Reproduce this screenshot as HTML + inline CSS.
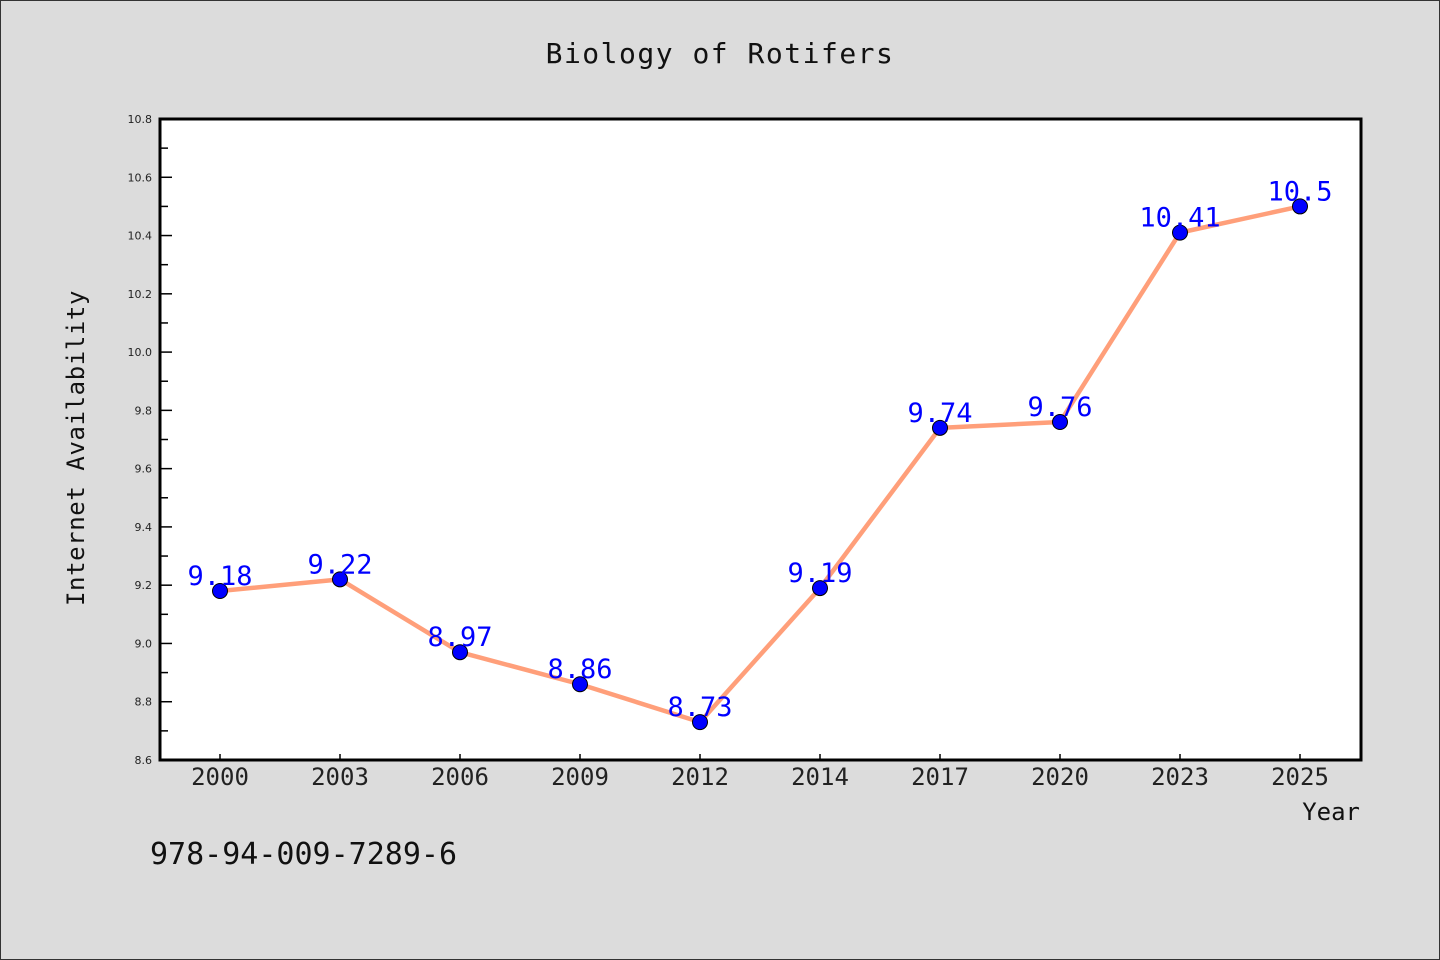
<!DOCTYPE html>
<html><head><meta charset="utf-8"><style>
body{margin:0;background:#dcdcdc;}
svg{display:block;font-family:"WenQuanYi Zen Hei Mono","WenQuanYi Zen Hei","DejaVu Sans Mono",monospace;}
.tk{font-family:"DejaVu Sans","Liberation Sans",sans-serif;}
</style></head><body>
<svg id="chart" width="1440" height="960">
<rect x="0.5" y="0.5" width="1439" height="959" fill="#dcdcdc" stroke="#333"/>
<text x="720" y="63" text-anchor="middle" font-size="28" fill="#111" letter-spacing="1.5">Biology of Rotifers</text>
<rect x="160" y="119" width="1201" height="641" fill="#fff"/>
<g id="axes"></g>
<g id="marks"></g>
<rect x="160" y="119" width="1201" height="641" fill="none" stroke="#000" stroke-width="3"/>
<text x="84" y="448" transform="rotate(-90 84 448)" text-anchor="middle" font-size="24" fill="#111" letter-spacing="0.6">Internet Availability</text>
<text x="1360" y="820" text-anchor="end" font-size="24" fill="#111">Year</text>
<text x="150" y="864" font-size="30" fill="#111">978-94-009-7289-6</text>
</svg>
<script>
const categories=["2000","2003","2006","2009","2012","2014","2017","2020","2023","2025"];
const values=[9.18,9.22,8.97,8.86,8.73,9.19,9.74,9.76,10.41,10.5];
const valueLabels=["9.18","9.22","8.97","8.86","8.73","9.19","9.74","9.76","10.41","10.5"];
const yTicks=[8.6,8.8,9.0,9.2,9.4,9.6,9.8,10.0,10.2,10.4,10.6,10.8];
const yMin=8.6,yMax=10.8;
const NS="http://www.w3.org/2000/svg";
const L=160,R=1361,T=119,B=760;
function x(i){return 220+i*120;}
function y(v){return B-(v-yMin)/(yMax-yMin)*(B-T);}
function mk(tag,attrs,parent,txt){const e=document.createElementNS(NS,tag);for(const k in attrs)e.setAttribute(k,attrs[k]);if(txt!==undefined)e.textContent=txt;parent.appendChild(e);return e;}
const axes=document.getElementById('axes'),marks=document.getElementById('marks');
yTicks.forEach((t,i)=>{
  const yy=y(t);
  const tk=mk('line',{x1:L,x2:L+12,y1:yy,y2:yy,stroke:'#000','stroke-width':1.5},axes);
  
  
  const lb=mk('text',{x:152,y:yy+4,'text-anchor':'end','font-size':11,fill:'#222','class':'tk'},axes,t.toFixed(1));
  
  
  if(i<yTicks.length-1){
    const ym=y(t+0.1);
    const mt=mk('line',{x1:L,x2:L+8,y1:ym,y2:ym,stroke:'#000','stroke-width':1.5},axes);
    
    
  }
});
categories.forEach((c,i)=>{
  const tk=mk('line',{x1:x(i),x2:x(i),y1:B,y2:B-6,stroke:'#000','stroke-width':1.5},axes);
  
  
  const lb=mk('text',{x:x(i),y:785,'text-anchor':'middle','font-size':24,fill:'#222'},axes,c);
  
  
});
const pl=mk('polyline',{points:values.map((v,i)=>x(i)+','+y(v)).join(' '),fill:'none',stroke:'#ff9f7a','stroke-width':4.5,'stroke-linejoin':'round'},marks);


values.forEach((v,i)=>{
  const p=mk('circle',{cx:x(i),cy:y(v),r:7.5,fill:'#0000ff',stroke:'#000','stroke-width':1},marks);
  
  
});
values.forEach((v,i)=>{
  const t=mk('text',{x:x(i),y:y(v)-6,'text-anchor':'middle','font-size':27,fill:'#0000ff'},marks,valueLabels[i]);
  
  
});
</script>
</body></html>
